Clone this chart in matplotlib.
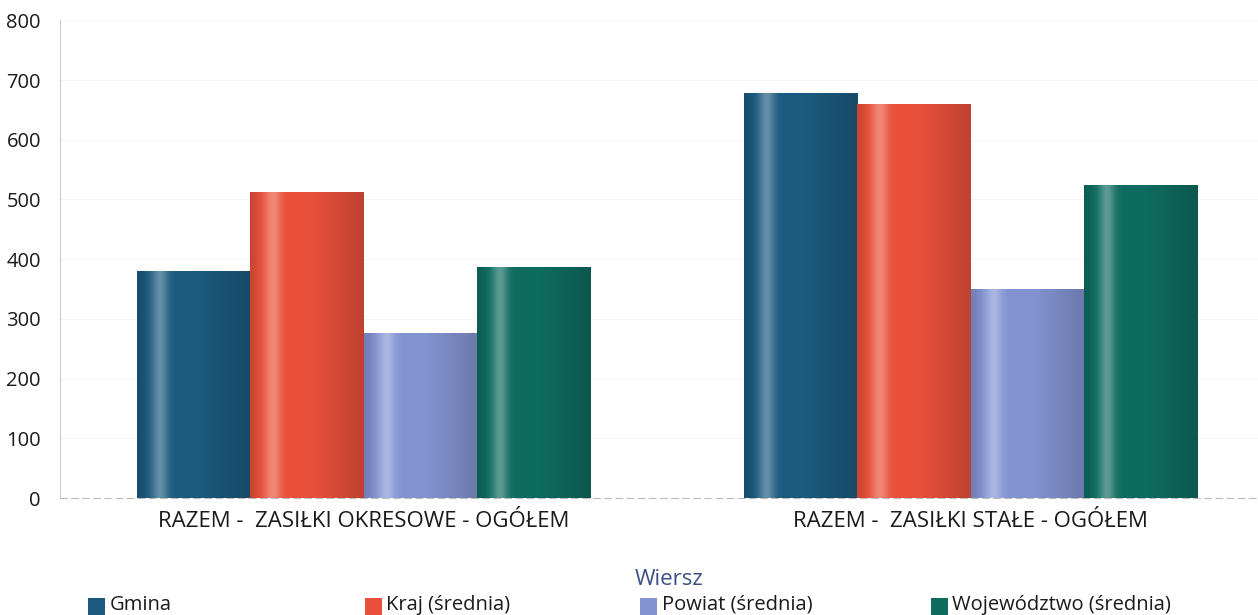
import numpy as np
import matplotlib
matplotlib.use("Agg")
import matplotlib.pyplot as plt
from matplotlib.colors import to_rgb
from matplotlib.patches import Rectangle

plt.rcParams['font.family'] = ['Open Sans', 'DejaVu Sans']

categories = ["RAZEM -  ZASIŁKI OKRESOWE - OGÓŁEM", "RAZEM -  ZASIŁKI STAŁE - OGÓŁEM"]
series = ["Gmina", "Kraj (średnia)", "Powiat (średnia)", "Województwo (średnia)"]
gmina = [380, 678]
kraj = [513, 660]
powiat = [277, 350]
wojewodztwo = [387, 525]
values = [gmina, kraj, powiat, wojewodztwo]
colors = ["#1b5a7e", "#e9503a", "#8393d2", "#0e6b60"]
yticks = [0, 100, 200, 300, 400, 500, 600, 700, 800]

fig = plt.figure(figsize=(12.58, 6.15), dpi=100)
ax = fig.add_axes([0.048, 0.19, 0.955, 0.777])

x = np.arange(len(categories))
width = 0.187
n = len(series)

# horizontal shading profile for cylinder look
t = np.linspace(0, 1, 200)
dark = 0.86 + 0.14 * np.clip(t / 0.12, 0, 1) - 0.18 * np.clip((t - 0.55) / 0.45, 0, 1)
hl = 0.32 * np.exp(-((t - 0.2) / 0.07) ** 2)

for i, (name, vals, col) in enumerate(zip(series, values, colors)):
    offs = (i - (n - 1) / 2) * width
    bars = ax.bar(x + offs, vals, width, color=col, label=name, zorder=2,
                  edgecolor='none')
    base = np.array(to_rgb(col))
    grad = base[None, :] * dark[:, None]
    grad = np.clip(grad + hl[:, None] * (1 - grad), 0, 1)
    img = grad[None, :, :]
    for b in bars:
        im = ax.imshow(img, extent=[b.get_x(), b.get_x() + b.get_width(), 0, b.get_height()],
                       aspect='auto', zorder=3, interpolation='bilinear')
        im.set_clip_path(b)

ax.set_xlim(-0.5, 1.48)
ax.set_ylim(0, 800)
ax.set_yticks(yticks)
ax.set_yticklabels([str(v) for v in yticks], fontsize=14.5, color='#1a1a1a')
ax.set_xticks(x)
ax.set_xticklabels(categories, fontsize=16, color='#1a1a1a')
ax.tick_params(axis='y', length=0, pad=14)
ax.tick_params(axis='x', length=0, pad=9)

for s in ['top', 'right']:
    ax.spines[s].set_visible(False)
ax.spines['left'].set_color('#cccccc')
ax.spines['left'].set_linewidth(0.8)
ax.spines['bottom'].set_color('#bbbbbb')
ax.spines['bottom'].set_linestyle((0, (6, 4)))
ax.spines['bottom'].set_linewidth(0.8)
ax.yaxis.grid(True, color='#f4f4f4', linewidth=0.6, zorder=0)
ax.set_axisbelow(True)

fig.text(0.532, 0.058, "Wiersz", ha='center', va='center', fontsize=16, color='#3d4f86')

leg_x = [0.070, 0.290, 0.509, 0.740]
for hx, name, col in zip(leg_x, series, colors):
    fig.patches.append(Rectangle((hx, 0.0), 0.0135, 0.028,
                                 transform=fig.transFigure, facecolor=col,
                                 edgecolor='none'))
    fig.text(hx + 0.017, 0.017, name, ha='left', va='center', fontsize=14.5, color='#1a1a1a')

fig.savefig("out.png", dpi=100)
